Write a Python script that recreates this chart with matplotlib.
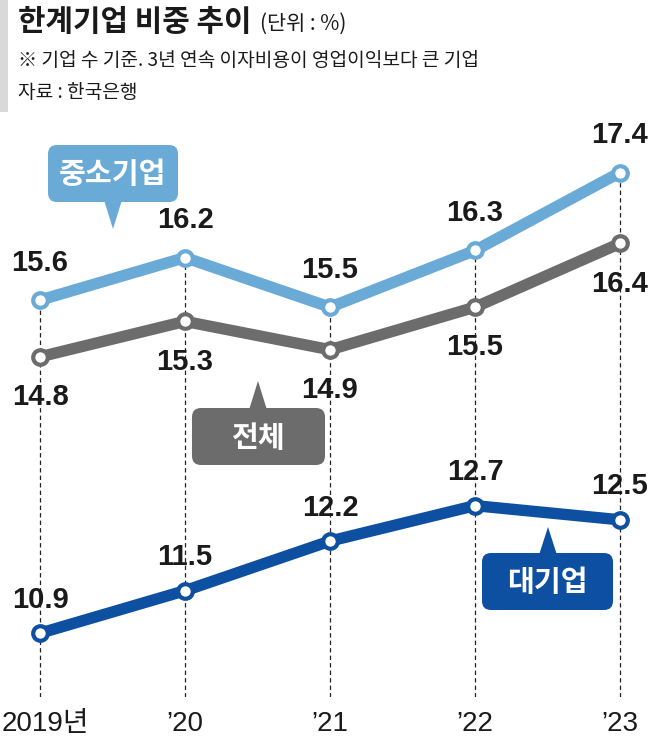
import matplotlib
matplotlib.use("Agg")
import matplotlib.pyplot as plt
from matplotlib import font_manager
from matplotlib.patches import FancyBboxPatch, Polygon, Rectangle
from matplotlib.transforms import Affine2D, ScaledTranslation

# ---------------- data ----------------
years = ["2019년", "’20", "’21", "’22", "’23"]
sme = [15.6, 16.2, 15.5, 16.3, 17.4]      # 중소기업
total = [14.8, 15.3, 14.9, 15.5, 16.4]    # 전체
large = [10.9, 11.5, 12.2, 12.7, 12.5]    # 대기업

title = "한계기업 비중 추이"
unit = "(단위 : %)"
note = "※ 기업 수 기준. 3년 연속 이자비용이 영업이익보다 큰 기업"
source = "자료 : 한국은행"

# ---------------- style ----------------
avail = {f.name for f in font_manager.fontManager.ttflist}
num_font = "Liberation Sans Narrow" if "Liberation Sans Narrow" in avail else "Liberation Sans"
KR = "Noto Sans CJK KR"
plt.rcParams["font.family"] = [KR, "DejaVu Sans"]

C_SME = "#6aaad6"
C_TOT = "#6c6c6c"
C_LRG = "#0d4fa0"
C_TXT = "#1a1a1a"

W, H = 661, 744
fig = plt.figure(figsize=(W / 100, H / 100), dpi=100)
fig.patch.set_facecolor("white")

# pixel (from top-left) transform
px = Affine2D().scale(1 / 100, -1 / 100).translate(0, H / 100) + fig.dpi_scale_trans

ax_top, ax_bot = 130, 697
ax = fig.add_axes([0, (H - ax_bot) / H, 1, (ax_bot - ax_top) / H])
ax.set_xlim(-0.276, 4.283)
ax.set_ylim(10.0, 18.0)
for s in ax.spines.values():
    s.set_visible(False)
ax.set_yticks([])
xs = list(range(len(years)))
ax.set_xticks(xs, years, fontsize=20, color=C_TXT, family=[num_font, KR])
ax.tick_params(axis="x", length=0, pad=10)
first = ax.get_xticklabels()[0]
first.set_transform(first.get_transform() + ScaledTranslation(5 / 100, 0, fig.dpi_scale_trans))

# dashed guides
tops = [max(a, b, c) for a, b, c in zip(sme, total, large)]
ax.vlines(xs, 10.0, tops, colors="#222222", linestyles=(0, (3.5, 2.5)), lw=0.9, zorder=1)

def series(vals, color, dy, z):
    ax.plot(xs, vals, color=color, lw=8.2, solid_capstyle="round", zorder=z,
            marker="o", ms=10.5, mfc="white", mec=color, mew=3.0)
    for x, v in zip(xs, vals):
        ax.annotate(f"{v:.1f}", (x, v), xytext=(0, dy), textcoords="offset points",
                    ha="center", va="center", fontsize=21, fontweight="bold",
                    color=C_TXT, family=[num_font, KR], zorder=6)

series(sme, C_SME, 27, 4)
series(total, C_TOT, -29, 3)
series(large, C_LRG, 24, 3)

# callout bubbles (pixel coordinates)
def bubble(x0, y0, x1, y1, apex, base_y, text, color):
    box = FancyBboxPatch((x0, y0), x1 - x0, y1 - y0,
                         boxstyle="round,pad=0,rounding_size=9",
                         fc=color, ec="none", transform=px, zorder=7)
    fig.add_artist(box)
    ax_, ay_ = apex
    tri = Polygon([(ax_ - 9, base_y), (ax_ + 9, base_y), (ax_, ay_)],
                  closed=True, fc=color, ec="none", transform=px, zorder=7)
    fig.add_artist(tri)
    fig.text((x0 + x1) / 2, (y0 + y1) / 2 + 1, text, transform=px, ha="center", va="center",
             color="white", fontsize=21, fontweight="bold", zorder=8)

bubble(48, 145, 178, 202, (113, 229), 200, "중소기업", C_SME)
bubble(192, 408, 325, 465, (258, 381), 410, "전체", C_TOT)
bubble(482, 553, 613, 610, (548, 527), 555, "대기업", C_LRG)

# header
fig.add_artist(Rectangle((0, 0), 8, 112, fc="#d9d9d9", ec="none", transform=px))
t = fig.text(18, 22, title, transform=px, ha="left", va="center", fontsize=21.5,
             fontweight="bold", color=C_TXT)
fig.canvas.draw()
bb = t.get_window_extent()
fig.text(bb.x1 + 8, 24, unit, transform=px, ha="left", va="center",
         fontsize=15, color=C_TXT)
fig.text(18, 61, note, transform=px, ha="left", va="center", fontsize=13.8, color=C_TXT)
fig.text(18, 93, source, transform=px, ha="left", va="center", fontsize=13.8, color=C_TXT)

fig.savefig("out.png", dpi=100, facecolor="white")
